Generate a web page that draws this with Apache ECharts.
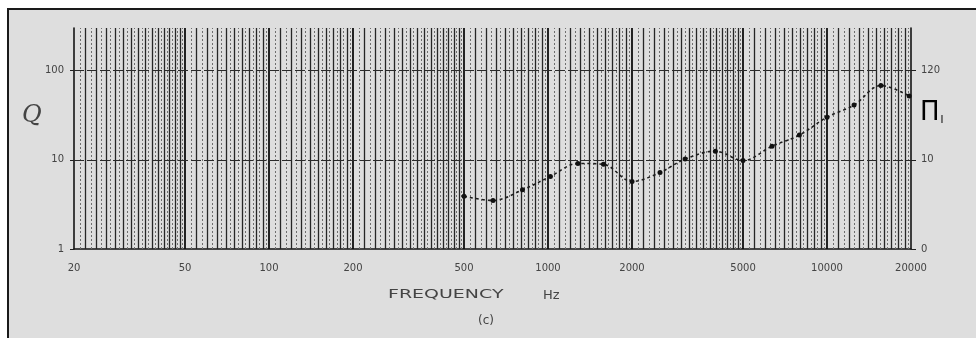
<!DOCTYPE html>
<html>
<head>
<meta charset="utf-8">
<script src="https://cdn.jsdelivr.net/npm/echarts@6/dist/echarts.min.js"></script>
<style>
  html, body { margin: 0; padding: 0; background: #ffffff; }
  #chart { width: 976px; height: 338px; }
</style>
</head>
<body>
<div id="chart"></div>
<script>
// Q measured across the audio band (Hz)
const freqHz = [500, 635, 810, 1020, 1280, 1580, 2000, 2520, 3100, 3980, 5000, 6350, 7960, 10000, 12500, 15600, 19700];
const qValues = [3.9, 3.5, 4.6, 6.5, 9.1, 8.9, 5.7, 7.2, 10.2, 12.5, 9.8, 14.2, 18.9, 30, 41, 68, 52];

// Axis ticks
const xTickValues = [20, 50, 100, 200, 500, 1000, 2000, 5000, 10000, 20000];
const xTickLabels = ['20', '50', '100', '200', '500', '1000', '2000', '5000', '10000', '20000'];
const qTickValues = [1, 10, 100];
const qTickLabels = ['1', '10', '100'];
const gammaTickLabels = ['0', '10', '120'];

// Log graph-paper rulings within one decade (multiplied per decade)
const rulingSteps = [
  { from: 1, to: 2, step: 0.1 },
  { from: 2, to: 5, step: 0.2 },
  { from: 5, to: 10, step: 0.5 }
];
const decades = [10, 100, 1000, 10000];
const horizontalRulings = [10, 100];

function buildRulings(lo, hi) {
  const heavy = [], light = [], faint = [];
  decades.forEach(d => {
    rulingSteps.forEach(r => {
      for (let k = 0; k * r.step < r.to - r.from - 1e-9; k++) {
        const m = +(r.from + k * r.step).toFixed(2);
        const f = +(m * d).toFixed(3);
        if (f > lo && f < hi) {
          if (m === 1 || m === 2 || m === 5) heavy.push(f); else light.push(f);
        }
        const half = +((r.from + (k + 0.5) * r.step) * d).toFixed(3);
        if (half > lo && half < hi) faint.push(half);
      }
    });
  });
  return { heavy, light, faint };
}
const rulings = buildRulings(20, 20000);

const chart = echarts.init(document.getElementById('chart'), null, { renderer: 'canvas' });
const labelFont = { color: '#444', fontSize: 10, fontFamily: 'DejaVu Sans' };

const option = {
  backgroundColor: '#dedede',
  animation: false,
  grid: { left: 74, right: 65, top: 28, bottom: 89 },
  xAxis: {
    type: 'log', logBase: 10, min: 20, max: 20000,
    axisLine: { show: true, lineStyle: { color: '#151515', width: 1.5 } },
    axisTick: { show: false },
    splitLine: { show: false },
    axisLabel: Object.assign({
      customValues: xTickValues,
      margin: 14,
      formatter: v => xTickLabels[xTickValues.indexOf(Math.round(v))] ?? ''
    }, labelFont)
  },
  yAxis: [
    {
      type: 'log', logBase: 10, min: 1, max: 300,
      axisLine: { show: true, lineStyle: { color: '#151515', width: 1.6 } },
      axisTick: { show: true, customValues: qTickValues, length: 4, lineStyle: { color: '#222' } },
      splitLine: { show: false },
      axisLabel: Object.assign({
        customValues: qTickValues,
        margin: 10,
        formatter: v => qTickLabels[qTickValues.indexOf(Math.round(v))] ?? ''
      }, labelFont)
    },
    {
      type: 'log', logBase: 10, min: 1, max: 300, position: 'right',
      axisLine: { show: true, lineStyle: { color: '#151515', width: 1.6 } },
      axisTick: { show: true, customValues: qTickValues, length: 5, lineStyle: { color: '#222' } },
      splitLine: { show: false },
      axisLabel: Object.assign({
        customValues: qTickValues,
        margin: 10,
        formatter: v => gammaTickLabels[qTickValues.indexOf(Math.round(v))] ?? ''
      }, labelFont)
    }
  ],
  series: [
    {
      // graph-paper rulings
      type: 'line', data: [], silent: true,
      markLine: {
        silent: true, symbol: 'none', animation: false,
        label: { show: false },
        data: [
          ...rulings.faint.map(f => ({ xAxis: f, lineStyle: { color: '#6e6e6e', width: 1, type: [2, 2] } })),
          ...rulings.light.map(f => ({ xAxis: f, lineStyle: { color: '#262626', width: 1.3, type: 'solid' } })),
          ...rulings.heavy.map(f => ({ xAxis: f, lineStyle: { color: '#0e0e0e', width: 1.8, type: 'solid' } })),
          ...horizontalRulings.map(q => ({ yAxis: q, lineStyle: { color: '#2a2a2a', width: 1.2, type: [10, 3] } }))
        ]
      }
    },
    {
      name: 'Q', type: 'line', yAxisIndex: 0,
      data: freqHz.map((f, i) => [f, qValues[i]]),
      smooth: 0.35,
      symbol: 'circle', symbolSize: 5,
      itemStyle: { color: '#111' },
      lineStyle: { color: '#1e1e1e', width: 1.6, type: [3, 3] },
      z: 5
    }
  ],
  graphic: [
    // paper edge and frame
    { type: 'rect', shape: { x: 0, y: 0, width: 976, height: 8 }, style: { fill: '#ffffff' }, silent: true },
    { type: 'rect', shape: { x: 0, y: 0, width: 7, height: 338 }, style: { fill: '#ffffff' }, silent: true },
    { type: 'polyline', shape: { points: [[8, 338], [8, 9], [976, 9]] }, style: { stroke: '#1a1a1a', lineWidth: 2, fill: null }, silent: true },
    // axis names
    { type: 'text', left: 22, top: 104, style: { text: 'Q', fontSize: 24, fontFamily: 'DejaVu Serif', fontStyle: 'italic', fill: '#444' } },
    { type: 'text', left: 920, top: 100, style: {
        text: '{a|Π}{b|I}',
        rich: {
          a: { fontSize: 26, fontFamily: 'DejaVu Sans', color: '#444' },
          b: { fontSize: 10, fontFamily: 'DejaVu Sans', color: '#444', padding: [14, 0, 0, 1] }
        } } },
    { type: 'text', x: 388, y: 289, scaleX: 1.58, style: { text: 'FREQUENCY', fontSize: 12, fontFamily: 'DejaVu Sans', fill: '#444' } },
    { type: 'text', x: 543, y: 289, style: { text: 'Hz', fontSize: 13, fontFamily: 'DejaVu Sans', fill: '#444' } },
    { type: 'text', x: 478, y: 315, style: { text: '(c)', fontSize: 12, fontFamily: 'DejaVu Sans', fill: '#444' } }
  ]
};
chart.setOption(option);
</script>
</body>
</html>
